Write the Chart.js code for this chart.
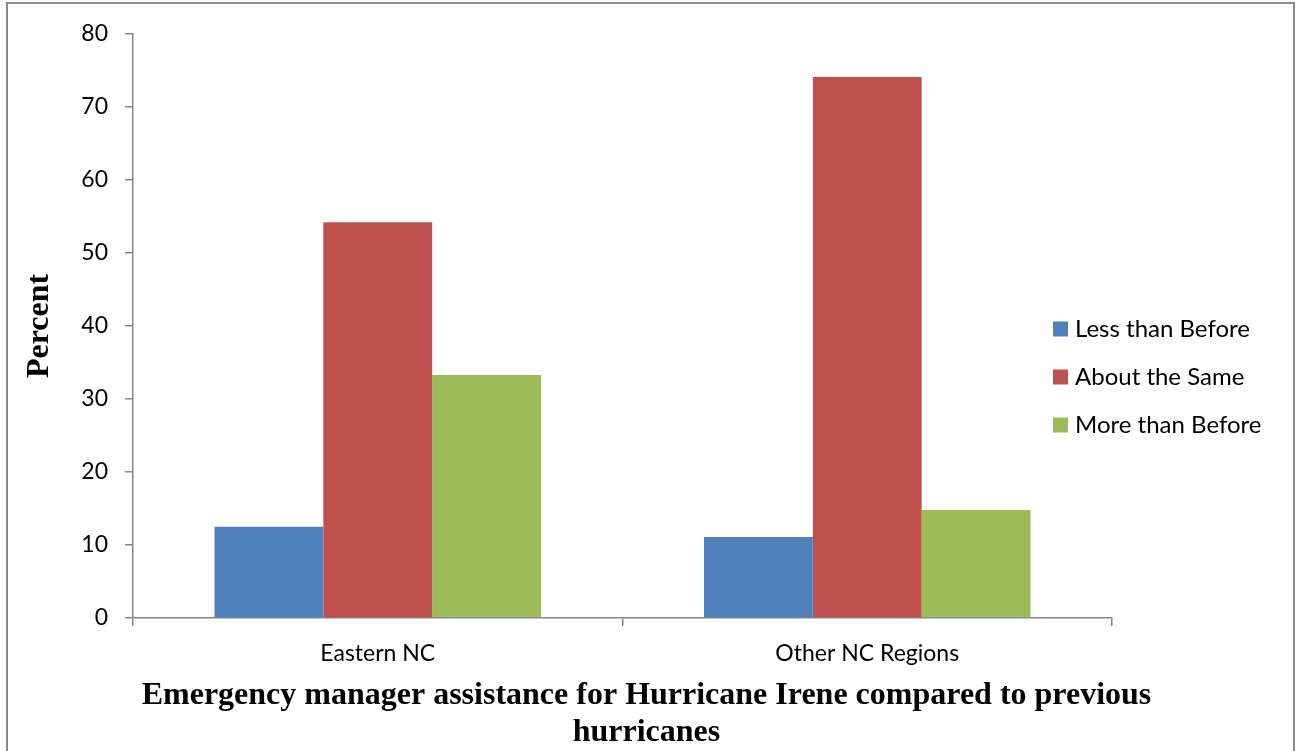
<!DOCTYPE html>
<html>
<head>
<meta charset="utf-8">
<script src="https://cdn.jsdelivr.net/npm/chart.js@4.4.1/dist/chart.umd.min.js"></script>
<style>
  html, body { margin: 0; padding: 0; background: #fff; }
  #wrap { width: 1297px; height: 751px; position: relative; }
</style>
</head>
<body>
<div id="wrap"><canvas id="hurricaneChart" width="1297" height="751"></canvas></div>
<script>
// Regions and responses
const regions = ['Eastern NC', 'Other NC Regions'];
const lessThanBefore = [12.5, 11.1];
const aboutTheSame = [54.2, 74.1];
const moreThanBefore = [33.3, 14.8];
const yTicks = [0, 10, 20, 30, 40, 50, 60, 70, 80];

const axisGray = '#868686';
const sansFont = 'Lato, "Liberation Sans", sans-serif';
const serifFont = '"Liberation Serif", "Times New Roman", serif';

// Legend on the right, drawn over the plot edge
const sideLegend = {
    id: 'sideLegend',
    afterDraw(chart) {
        const ctx = chart.ctx;
        ctx.save();
        ctx.font = '24px ' + sansFont;
        ctx.textBaseline = 'middle';
        ctx.textAlign = 'left';
        chart.data.datasets.forEach((ds, i) => {
            const y = 329 + i * 48;
            ctx.fillStyle = ds.backgroundColor;
            ctx.fillRect(1053, y - 7.5, 15, 15);
            ctx.fillStyle = '#000';
            ctx.fillText(ds.label, 1075, y);
        });
        ctx.restore();
    }
};

// Outer frame
const frame = {
    id: 'frame',
    beforeDraw(chart) {
        const ctx = chart.ctx;
        ctx.save();
        ctx.strokeStyle = '#8c8c8c';
        ctx.lineWidth = 2;
        ctx.strokeRect(7, 3, 1287, 770);
        ctx.restore();
    }
};

const ctx = document.getElementById('hurricaneChart').getContext('2d');
const chart = new Chart(ctx, {
    type: 'bar',
    data: {
        labels: regions,
        datasets: [
            { label: 'Less than Before', data: lessThanBefore, backgroundColor: '#4F81BD' },
            { label: 'About the Same', data: aboutTheSame, backgroundColor: '#C0504D' },
            { label: 'More than Before', data: moreThanBefore, backgroundColor: '#9BBB59' }
        ]
    },
    options: {
        responsive: false,
        animation: false,
        categoryPercentage: 0.667,
        barPercentage: 1.0,
        layout: { padding: { left: 0, top: 34, right: 4, bottom: 0 } },
        plugins: {
            legend: { display: false },
            tooltip: { enabled: false },
            title: {
                display: true,
                position: 'bottom',
                text: ['Emergency manager assistance for Hurricane Irene compared to previous', 'hurricanes'],
                color: '#000',
                font: { family: serifFont, size: 32, weight: 'bold', lineHeight: '37px' },
                padding: { top: 3, bottom: 0 }
            }
        },
        scales: {
            x: {
                grid: {
                    offset: true,
                    drawOnChartArea: false,
                    drawTicks: true,
                    tickLength: 8,
                    color: axisGray,
                    lineWidth: 1.5
                },
                border: { display: true, color: axisGray, width: 1.5 },
                ticks: {
                    color: '#000',
                    font: { family: sansFont, size: 23 },
                    padding: 14
                },
                afterFit(scale) { scale.height = 56; }
            },
            y: {
                min: 0,
                max: 80,
                afterBuildTicks(scale) { scale.ticks = yTicks.map(v => ({ value: v })); },
                grid: {
                    drawOnChartArea: false,
                    drawTicks: true,
                    tickLength: 8,
                    color: axisGray,
                    lineWidth: 1.5
                },
                border: { display: true, color: axisGray, width: 1.5 },
                ticks: {
                    color: '#000',
                    font: { family: sansFont, size: 23 },
                    padding: 17
                },
                title: {
                    display: true,
                    text: 'Percent',
                    color: '#000',
                    font: { family: serifFont, size: 32, weight: 'bold', lineHeight: 1.2 },
                    padding: { top: 21, bottom: 0 }
                },
                afterFit(scale) { scale.width = 133; }
            },
            // empty right-hand axis that reserves room for the legend
            side: {
                type: 'linear',
                position: 'right',
                grid: { display: false },
                border: { display: false },
                ticks: { display: false },
                afterFit(scale) { scale.width = 181; }
            }
        }
    },
    plugins: [frame, sideLegend]
});
</script>
</body>
</html>
